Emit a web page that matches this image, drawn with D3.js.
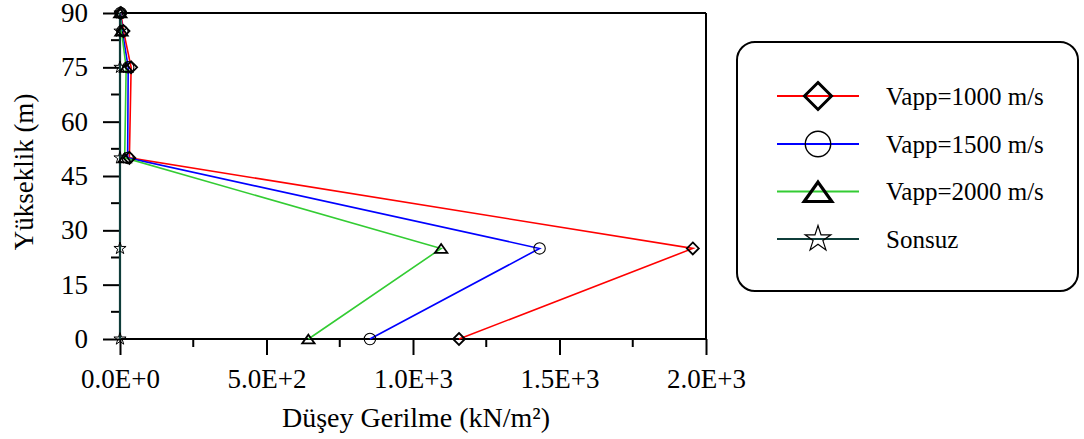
<!DOCTYPE html>
<html>
<head>
<meta charset="utf-8">
<script src="https://cdn.jsdelivr.net/npm/d3@7"></script>
<style>
  html, body { margin: 0; padding: 0; background: #fff; }
</style>
</head>
<body>
<svg id="chart" width="1084" height="439" style="font-family: 'Liberation Serif', serif;"></svg>
<script>
// Heights along the structure (m)
const heights = [0, 25, 50, 75, 85, 90];

// Vertical stress (kN/m²) for each apparent wave velocity
const vapp1000 = [1157, 1955, 32, 38, 12, 3];
const vapp1500 = [853, 1432, 26, 28, 8, 2];
const vapp2000 = [643, 1096, 16, 21, 5, 1];
const sonsuz   = [0, 0, 0, 0, 0, 0];

const seriesNames = ["Vapp=1000 m/s", "Vapp=1500 m/s", "Vapp=2000 m/s", "Sonsuz"];
const xTickValues = [0, 500, 1000, 1500, 2000];
const yTickValues = [0, 15, 30, 45, 60, 75, 90];

const seriesColors = ["#ff0000", "#0000ff", "#33cc33", "#0f3d3a"];
const seriesMarkers = ["diamond", "circle", "triangle", "star"];
const seriesValues = [vapp1000, vapp1500, vapp2000, sonsuz];

const FONT = "Liberation Serif";

const series = seriesNames.map((name, i) => ({
  name,
  color: seriesColors[i],
  marker: seriesMarkers[i],
  points: heights.map((h, j) => ({ h, v: seriesValues[i][j] }))
}));

const svg = d3.select("#chart");

const x = d3.scaleLinear().domain([0, 2000]).range([120, 706]);
const y = d3.scaleLinear().domain([0, 90]).range([339, 13]);

// Marker shapes
function markerPath(type, s) {
  if (type === "diamond") {
    return `M0,${-s}L${s},0L0,${s}L${-s},0Z`;
  }
  if (type === "triangle") {
    const w = s, h = s * 0.87;
    return `M0,${-h * 0.62}L${w},${h * 1.0}L${-w},${h * 1.0}Z`;
  }
  if (type === "star") {
    const ka = 0.8908130915292852;
    return d3.symbol(d3.symbolStar, (s * s) / ka)();
  }
  return null;
}

function drawMarker(g, type, cx, cy, big) {
  if (type === "circle") {
    g.append("circle")
      .attr("cx", cx).attr("cy", cy)
      .attr("r", big ? 12.7 : 5.7)
      .attr("fill", "none")
      .attr("stroke", "#000")
      .attr("stroke-width", big ? 1.4 : 1.1);
    return;
  }
  const size = {
    diamond: big ? 13.5 : 6,
    triangle: big ? 13.8 : 6.2,
    star: big ? 13.5 : 6.4
  }[type];
  const sw = {
    diamond: big ? 3 : 1.8,
    triangle: big ? 3.2 : 1.8,
    star: big ? 1.2 : 1
  }[type];
  let ty = cy;
  if (type === "triangle") ty = cy - (big ? 2 : 1);
  g.append("path")
    .attr("d", markerPath(type, size))
    .attr("transform", `translate(${cx},${ty})`)
    .attr("fill", "none")
    .attr("stroke", "#000")
    .attr("stroke-width", sw)
    .attr("stroke-linejoin", "miter");
}

// Frame: top and right edges
svg.append("line")
  .attr("x1", x(0)).attr("x2", x(2000))
  .attr("y1", y(90)).attr("y2", y(90))
  .attr("stroke", "#000").attr("stroke-width", 2);
svg.append("line")
  .attr("x1", x(2000)).attr("x2", x(2000))
  .attr("y1", y(90)).attr("y2", y(0))
  .attr("stroke", "#000").attr("stroke-width", 2);

// X axis
const xAxis = d3.axisBottom(x)
  .tickValues(xTickValues)
  .tickSize(16)
  .tickPadding(14)
  .tickFormat(d => d.toExponential(1).replace("e", "E"));
const gx = svg.append("g").attr("transform", `translate(0,${y(0)})`).call(xAxis);
gx.attr("font-family", FONT).attr("font-size", 27);
gx.select(".domain").attr("stroke", "#000").attr("stroke-width", 2).attr("d", `M${x(0)},0H${x(2000)}`);
gx.selectAll(".tick line").attr("stroke", "#000").attr("stroke-width", 2);
gx.selectAll(".tick text").attr("fill", "#000").attr("font-family", FONT);
const xMinor = d3.range(250, 2000, 500);
gx.selectAll(".minor").data(xMinor).enter().append("line")
  .attr("x1", d => x(d)).attr("x2", d => x(d))
  .attr("y1", 0).attr("y2", 8)
  .attr("stroke", "#000").attr("stroke-width", 2);

// Y axis
const yAxis = d3.axisLeft(y)
  .tickValues(yTickValues)
  .tickSize(17)
  .tickPadding(15)
  .tickFormat(d3.format("d"));
const gy = svg.append("g").attr("transform", `translate(${x(0)},0)`).call(yAxis);
gy.attr("font-family", FONT).attr("font-size", 27);
gy.select(".domain").attr("stroke", "#000").attr("stroke-width", 2).attr("d", `M0,${y(0)}V${y(90)}`);
gy.selectAll(".tick line").attr("stroke", "#000").attr("stroke-width", 2);
gy.selectAll(".tick text").attr("fill", "#000").attr("font-family", FONT);
const yMinor = d3.range(7.5, 90, 15);
gy.selectAll(".minor").data(yMinor).enter().append("line")
  .attr("x1", -9).attr("x2", 0)
  .attr("y1", d => y(d)).attr("y2", d => y(d))
  .attr("stroke", "#000").attr("stroke-width", 2);

// Axis titles
svg.append("text")
  .attr("x", 416).attr("y", 427)
  .attr("text-anchor", "middle")
  .attr("font-family", FONT)
  .attr("font-size", 28)
  .attr("fill", "#000")
  .text("Düşey Gerilme (kN/m²)");
svg.append("text")
  .attr("transform", `translate(33,${172}) rotate(-90)`)
  .attr("text-anchor", "middle")
  .attr("font-family", FONT)
  .attr("font-size", 27)
  .attr("fill", "#000")
  .text("Yükseklik (m)");

// Series lines and markers
const line = d3.line().x(d => x(d.v)).y(d => y(d.h));
const plot = svg.append("g");
series.forEach(s => {
  plot.append("path")
    .datum(s.points)
    .attr("d", line)
    .attr("fill", "none")
    .attr("stroke", s.color)
    .attr("stroke-width", s.marker === "star" ? 2.2 : 1.6);
});
series.forEach(s => {
  const mg = plot.append("g");
  s.points.forEach(p => drawMarker(mg, s.marker, x(p.v), y(p.h), false));
});

// Legend
const legend = svg.append("g");
legend.append("rect")
  .attr("x", 737).attr("y", 42)
  .attr("width", 341).attr("height", 249)
  .attr("rx", 18).attr("ry", 18)
  .attr("fill", "#fff")
  .attr("stroke", "#000")
  .attr("stroke-width", 2);
const legendRows = [96, 144, 191.5, 239];
series.forEach((s, i) => {
  const ly = legendRows[i];
  const g = legend.append("g");
  g.append("line")
    .attr("x1", 777).attr("x2", 859)
    .attr("y1", ly).attr("y2", ly)
    .attr("stroke", s.color)
    .attr("stroke-width", s.marker === "star" ? 2.2 : 1.8);
  drawMarker(g, s.marker, 818, ly, true);
  g.append("text")
    .attr("x", 886).attr("y", ly + 8.5)
    .attr("font-family", FONT)
    .attr("font-size", 25)
    .attr("fill", "#000")
    .text(s.name);
});
</script>
</body>
</html>
